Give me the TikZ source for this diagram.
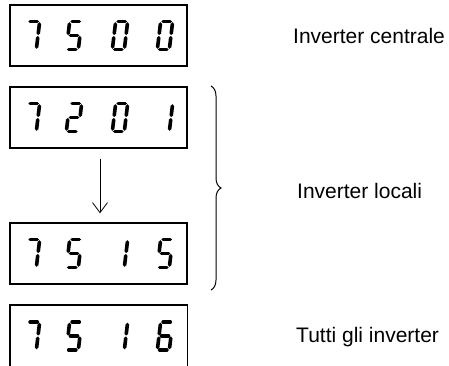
\documentclass[tikz,border=0pt]{standalone}
\usepackage{fontspec}
\setmainfont{Liberation Sans}
\usetikzlibrary{arrows.meta,decorations.pathreplacing}
\tikzset{
  dispbox/.style={draw=black, line width=1.4pt, minimum width=177pt, minimum height=61pt, inner sep=0pt},
  openbox/.style={minimum width=177pt, minimum height=62pt, inner sep=0pt},
  seg/.style={line width=3.6pt, line cap=round, black},
  sega/.style={insert path={(-3.6,-14) -- (3.6,-14)}},
  segb/.style={insert path={(6,-11.5) -- (6,-2.2)}},
  segc/.style={insert path={(6,2.2) -- (6,11.5)}},
  segd/.style={insert path={(-3.6,14) -- (3.6,14)}},
  sege/.style={insert path={(-6,2.2) -- (-6,11.5)}},
  segf/.style={insert path={(-6,-11.5) -- (-6,-2.2)}},
  segg/.style={insert path={(-3.6,0) -- (3.6,0)}},
  label/.style={font=\fontsize{21}{25}\selectfont, anchor=base west, inner sep=0pt},
  flowarrow/.style={line width=0.8pt, -{Straight Barb[length=10pt,width=15pt,line width=0.8pt]}},
  bracestyle/.style={line width=1pt, decorate, decoration={brace, amplitude=10pt}}
}
\newcommand{\sdig}[3]{%
  \begin{scope}[shift={(#1,#2)}, xslant=0.12]
    \foreach \s in {#3} { \draw[seg, seg\s]; }
  \end{scope}}
\begin{document}
\begin{tikzpicture}[x=1pt,y=-1pt]
\useasboundingbox (0,0) rectangle (449,365);
% boxes
\node[dispbox] (b1) at (98.5,35.5) {};
\node[dispbox] (b2) at (98.5,117.5) {};
\node[dispbox] (b3) at (98.5,253.5) {};
\node[openbox] (b4) at (98.5,336) {};
\draw[line width=1.4pt] (b4.south west) |- (b4.north east) -- (b4.south east);
% digits box 1: 7500
\sdig{32}{35.5}{a,b,c}
\sdig{74}{35.5}{a,f,g,c,d}
\sdig{120}{35.5}{a,b,c,d,e,f}
\sdig{165}{35.5}{a,b,c,d,e,f}
% box 2: 7201
\sdig{32}{117.5}{a,b,c}
\sdig{74}{117.5}{a,b,g,e,d}
\sdig{120}{117.5}{a,b,c,d,e,f}
\sdig{165}{117.5}{b,c}
% box 3: 7515
\sdig{32}{253.5}{a,b,c}
\sdig{74}{253.5}{a,f,g,c,d}
\sdig{120}{253.5}{b,c}
\sdig{165}{253.5}{a,f,g,c,d}
% box 4: 7516
\sdig{32}{336}{a,b,c}
\sdig{74}{336}{a,f,g,c,d}
\sdig{120}{336}{b,c}
\sdig{165}{336}{a,f,g,e,c,d}
% arrow
\draw[flowarrow] ([xshift=1.5pt,yshift=-10pt]b2.south) -- ([xshift=1.5pt,yshift=9pt]b3.north);
% brace
\coordinate (bt) at (211,86);
\coordinate (bb) at (211,290);
\draw[bracestyle] (bt) -- (bb);
% labels
\node[label] (l1) at (293,43) {Inverter centrale};
\node[label] (l2) at (297,198) {Inverter locali};
\node[label] (l3) at (296,342) {Tutti gli inverter};
\end{tikzpicture}
\end{document}
